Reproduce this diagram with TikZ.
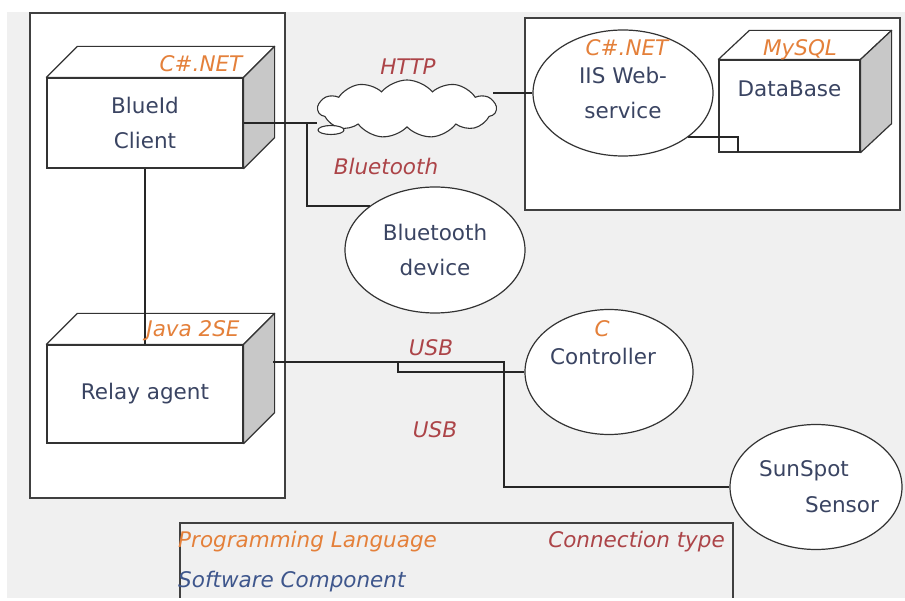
\documentclass[tikz,border=0pt]{standalone}
\usepackage{fontspec}
\setmainfont{DejaVu Sans}
\usepackage{tikz}
\usetikzlibrary{shapes.geometric, shapes.symbols, positioning, calc}

\definecolor{canvas}{RGB}{240,240,240}
\definecolor{sideface}{RGB}{200,200,200}
\definecolor{langcol}{RGB}{228,128,58}
\definecolor{conncol}{RGB}{172,68,72}
\definecolor{compcol}{RGB}{58,68,98}
\definecolor{legcol}{RGB}{62,86,140}

\begin{document}
\begin{tikzpicture}[
    x=1pt, y=-1pt,
    txt/.style={font=\fontsize{21.5}{35}\selectfont},
    face/.style={
      rectangle, draw=black!80, fill=white, line width=1.2pt,
      txt, align=center, text=compcol, inner sep=0pt
    },
    topface/.style={draw=black!80, fill=white, line width=1.2pt, line join=round},
    sideface/.style={draw=black!80, fill=sideface, line width=1.2pt, line join=round},
    oval/.style={
      ellipse, draw=black!80, fill=white, line width=1.2pt,
      txt, align=center, text=compcol, inner sep=0pt
    },
    frame/.style={draw=black!75, fill=white, line width=1.3pt},
    wire/.style={draw=black!85, line width=1.2pt},
    lang/.style={txt, text=langcol, font=\fontsize{21.5}{35}\selectfont\itshape, inner sep=0pt},
    conn/.style={txt, text=conncol, font=\fontsize{21.5}{35}\selectfont\itshape, inner sep=0pt},
  ]

  %% ── Canvas ────────────────────────────────────────────────────────────
  \useasboundingbox (0,0) rectangle (905,601);
  \fill[white]  (0,0) rectangle (905,601);
  \fill[canvas] (7,12) rectangle (905,598);

  %% ── Containers ────────────────────────────────────────────────────────
  \node[frame, minimum width=255pt, minimum height=485pt] (pcside)  at (157.5,255.5) {};
  \node[frame, minimum width=375pt, minimum height=192pt] (srvside) at (712.5,114)   {};

  %% ── 3D nodes (front face is the node, top + side drawn on it) ─────────
  \node[face, minimum width=196pt, minimum height=90pt] (blueid) at (145,123) {BlueId\\Client};
  \draw[topface]  (blueid.north west) -- ++(31,-31) -- ($(blueid.north east)+(31,-31)$) -- (blueid.north east) -- cycle;
  \draw[sideface] (blueid.north east) -- ++(31,-31) -- ($(blueid.south east)+(31,-31)$) -- (blueid.south east) -- cycle;

  \node[face, minimum width=196pt, minimum height=98pt] (relay) at (145,394) {Relay agent};
  \draw[topface]  (relay.north west) -- ++(31,-31) -- ($(relay.north east)+(31,-31)$) -- (relay.north east) -- cycle;
  \draw[sideface] (relay.north east) -- ++(31,-31) -- ($(relay.south east)+(31,-31)$) -- (relay.south east) -- cycle;

  \node[face, minimum width=141pt, minimum height=92pt, text depth=34pt] (db) at (789.5,106) {DataBase};
  \draw[topface]  (db.north west) -- ++(31,-29) -- ($(db.north east)+(31,-29)$) -- (db.north east) -- cycle;
  \draw[sideface] (db.north east) -- ++(31,-29) -- ($(db.south east)+(31,-29)$) -- (db.south east) -- cycle;

  %% ── Ovals ─────────────────────────────────────────────────────────────
  \node[oval, minimum width=180pt, minimum height=126pt] (iis)     at (623,93)  {IIS Web-\\service};
  \node[oval, minimum width=180pt, minimum height=126pt] (btdev)   at (435,250) {Bluetooth\\device};
  \node[oval, minimum width=168pt, minimum height=125pt] (ctrl)    at (609,372) {};
  \node[oval, minimum width=172pt, minimum height=125pt] (sunspot) at (816,487) {};
  \node[txt, text=compcol] (ctrltxt) at (603,356) {Controller};
  \node[txt, text=compcol] (suntxt1) at (804,471) {SunSpot};
  \node[txt, text=compcol] (suntxt2) at (842,505) {Sensor};

  %% ── Network cloud ─────────────────────────────────────────────────────
  \node[cloud, draw=black!80, fill=white, line width=1.1pt,
        cloud puffs=11, cloud puff arc=100, aspect=3.2,
        minimum width=178pt, minimum height=58pt, inner sep=0pt] (cloud) at (407,109) {};
  \node[ellipse, draw=black!80, fill=white, line width=1.1pt,
        minimum width=26pt, minimum height=9pt, inner sep=0pt] (cloudtail) at (331,130) {};

  %% ── Wires ─────────────────────────────────────────────────────────────
  \coordinate (btjoin)  at (307,123);
  \coordinate (dbport)  at (738,152);
  \coordinate (usbout)  at (273,362);
  \coordinate (usbstep) at (398,362);
  \coordinate (usbdrop) at (504,362);

  \draw[wire] (blueid.east) -- (cloud.west |- blueid.east);
  \draw[wire] (btjoin) |- (btdev.146);
  \draw[wire] (iis.west) -- ($(cloud.east |- iis.west)+(-4,0)$);
  \draw[wire] (iis.-34) -| (dbport);
  \draw[wire] (blueid.south) -- (relay.north);
  \draw[wire] (usbout) -- (usbstep) |- (ctrl.west);
  \draw[wire] (usbout) -- (usbdrop) |- (sunspot.west);

  %% ── Language / connection labels ──────────────────────────────────────
  \node[lang] (l-blueid) at (201,64)  {C\#.NET};
  \node[lang] (l-iis)    at (627,48)  {C\#.NET};
  \node[lang] (l-db)     at (800,50)  {MySQL};
  \node[lang] (l-relay)  at (193,331) {Java 2SE};
  \node[lang] (l-ctrl)   at (602,329) {C};
  \node[conn] (c-http)   at (408,67)  {HTTP};
  \node[conn] (c-bt)     at (386,166) {Bluetooth};
  \node[conn] (c-usb1)   at (431,348) {USB};
  \node[conn] (c-usb2)   at (435,430) {USB};

  %% ── Legend ────────────────────────────────────────────────────────────
  \node[frame, fill=canvas, minimum width=553pt, minimum height=76.5pt] (legend) at (456.5,561.25) {};
  \node[lang, anchor=base west] (leg-lang) at (178,547) {Programming Language};
  \node[conn, anchor=base east] (leg-conn) at (725,547) {Connection type};
  \node[lang, text=legcol, anchor=base west] (leg-comp) at (178,587) {Software Component};
  \fill[white] (0,598) rectangle (905,601);

\end{tikzpicture}
\end{document}
